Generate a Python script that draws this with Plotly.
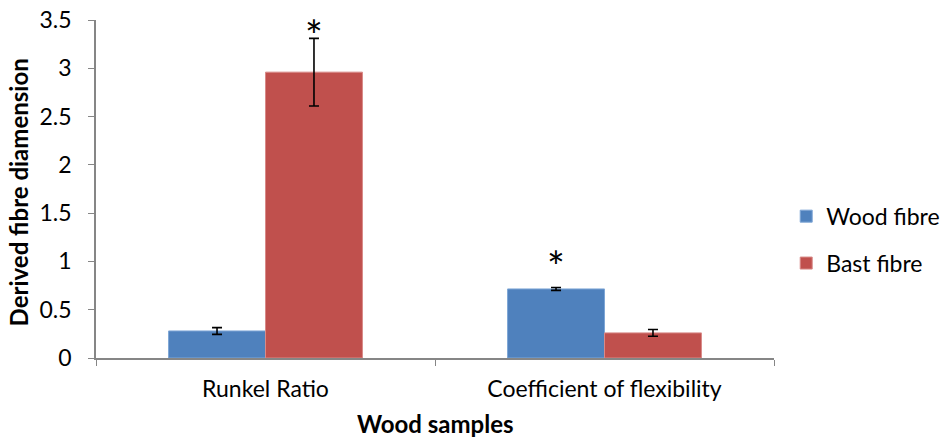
import plotly.graph_objects as go

categories = ["Runkel Ratio", "Coefficient of flexibility"]
wood_values = [0.28, 0.715]
wood_err = [0.035, 0.015]
bast_values = [2.96, 0.26]
bast_err = [0.35, 0.035]
star_y = [3.34, 0.95]
star_x_series = ["bast", "wood"]
y_ticks = [0, 0.5, 1, 1.5, 2, 2.5, 3, 3.5]
y_tick_labels = ["0", "0.5", "1", "1.5", "2", "2.5", "3", "3.5"]

FONT = "Lato"

fig = go.Figure()
fig.add_trace(go.Bar(
    name="Wood fibre", x=categories, y=wood_values, marker_color="#4F81BD",
    marker_line=dict(color="#7EA6D6", width=1),
    error_y=dict(type="data", array=wood_err, color="black", thickness=1.6, width=5),
    legendgroup="a", offsetgroup="a",
))
fig.add_trace(go.Bar(
    name="Bast fibre", x=categories, y=bast_values, marker_color="#C0504D",
    marker_line=dict(color="#D88A88", width=1),
    error_y=dict(type="data", array=bast_err, color="black", thickness=1.6, width=5),
    legendgroup="b", offsetgroup="b",
))

# asterisks marking significant differences
for i, (cat, yv, s) in enumerate(zip(categories, star_y, star_x_series)):
    fig.add_annotation(
        x=i + (0.143 if s == "bast" else -0.143), y=yv, xref="x", yref="y",
        text="*", showarrow=False, font=dict(family=FONT, size=42, color="black"),
        yanchor="middle",
    )

# axis titles
fig.add_annotation(text="<b>Wood samples</b>", xref="paper", yref="paper",
                   x=0.5, y=-0.195, xanchor="center", yanchor="middle",
                   showarrow=False, font=dict(family=FONT, size=24))
fig.add_annotation(text="<b>Derived fibre diamension</b>", xref="paper", yref="paper",
                   x=-0.115, y=0.49, xanchor="center", yanchor="middle", textangle=-90,
                   showarrow=False, font=dict(family=FONT, size=24))

fig.update_layout(
    width=941, height=439,
    margin=dict(l=96, r=167, t=20, b=81, autoexpand=False),
    plot_bgcolor="white", paper_bgcolor="white",
    barmode="group", bargap=0.428, bargroupgap=0,
    font=dict(family=FONT, size=23, color="black"),
    legend=dict(x=1.018, y=0.35, xanchor="left", yanchor="middle",
                font=dict(family=FONT, size=23), tracegroupgap=14,
                itemwidth=30),
    showlegend=True,
)
fig.update_xaxes(
    type="category", range=[-0.5, 1.5], automargin=False,
    showline=True, linecolor="#868686", linewidth=1.5,
    ticks="outside", tickson="boundaries", ticklen=6, tickcolor="#868686",
    tickfont=dict(family=FONT, size=23), showgrid=False, ticklabelstandoff=10,
)
fig.update_yaxes(
    range=[0, 3.5], tickvals=y_ticks, ticktext=y_tick_labels, automargin=False,
    showline=True, linecolor="#868686", linewidth=1.5,
    ticks="outside", ticklen=6, tickcolor="#868686",
    tickfont=dict(family=FONT, size=23), showgrid=False, zeroline=False,
    ticklabelstandoff=12,
)

fig.write_html("out.html", config={"displayModeBar": False},
               post_script="document.body.style.margin='0';document.body.style.overflow='hidden';")
